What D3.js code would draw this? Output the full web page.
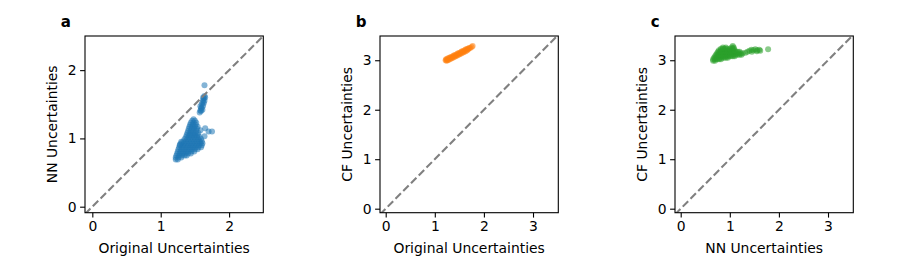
<!DOCTYPE html>
<html>
<head>
<meta charset="utf-8">
<script src="https://cdn.jsdelivr.net/npm/d3@7"></script>
<style>
  body { margin: 0; background: #fff; }
  text { font-family: "DejaVu Sans", sans-serif; }
</style>
</head>
<body>
<svg id="chart" width="900" height="270"></svg>
<script>
// panel a: original vs NN uncertainties
const pointsA = [
  [1.22,0.69],[1.25,0.69],
  [1.22,0.72],[1.26,0.72],[1.30,0.72],
  [1.23,0.75],[1.27,0.75],[1.31,0.75],[1.35,0.75],[1.38,0.75],
  [1.24,0.78],[1.28,0.78],[1.32,0.78],[1.36,0.78],[1.40,0.78],[1.44,0.78],
  [1.25,0.81],[1.29,0.81],[1.33,0.81],[1.37,0.81],[1.41,0.81],[1.45,0.81],[1.49,0.81],
  [1.26,0.84],[1.30,0.84],[1.34,0.84],[1.38,0.84],[1.42,0.84],[1.46,0.84],[1.50,0.84],[1.54,0.84],
  [1.27,0.87],[1.31,0.87],[1.35,0.87],[1.39,0.87],[1.43,0.87],[1.47,0.87],[1.51,0.87],[1.55,0.87],[1.59,0.87],
  [1.28,0.90],[1.32,0.90],[1.36,0.90],[1.40,0.90],[1.44,0.90],[1.48,0.90],[1.52,0.90],[1.56,0.90],[1.60,0.90],
  [1.30,0.93],[1.34,0.93],[1.38,0.93],[1.42,0.93],[1.46,0.93],[1.50,0.93],[1.54,0.93],[1.58,0.93],[1.61,0.93],
  [1.33,0.96],[1.37,0.96],[1.41,0.96],[1.45,0.96],[1.49,0.96],[1.53,0.96],[1.57,0.96],[1.60,0.96],
  [1.35,0.99],[1.39,0.99],[1.43,0.99],[1.47,0.99],[1.51,0.99],[1.55,0.99],[1.59,0.99],
  [1.37,1.02],[1.41,1.02],[1.45,1.02],[1.49,1.02],[1.53,1.02],[1.57,1.02],
  [1.38,1.05],[1.42,1.05],[1.46,1.05],[1.50,1.05],[1.54,1.05],
  [1.39,1.08],[1.43,1.08],[1.47,1.08],[1.51,1.08],[1.55,1.08],
  [1.40,1.11],[1.44,1.11],[1.48,1.11],[1.52,1.11],
  [1.41,1.14],[1.45,1.14],[1.49,1.14],[1.53,1.14],
  [1.42,1.17],[1.46,1.17],[1.50,1.17],[1.54,1.17],
  [1.43,1.20],[1.47,1.20],[1.51,1.20],
  [1.44,1.23],[1.48,1.23],[1.52,1.23],
  [1.46,1.26],[1.50,1.26],[1.48,1.28],
  [1.28,0.91],[1.30,0.95],
  [1.58,1.12],[1.65,1.15],[1.70,1.10],[1.75,1.10],[1.64,1.03],
  [1.57,1.38],[1.58,1.41],[1.59,1.44],[1.58,1.47],[1.60,1.50],[1.61,1.53],
  [1.62,1.56],[1.63,1.59],[1.64,1.62],[1.60,1.45],[1.62,1.48],[1.63,1.52],
  [1.64,1.55],[1.61,1.42],[1.59,1.40],[1.65,1.60],[1.62,1.60],
  [1.64,1.78]
];

// panel b: original vs CF uncertainties
const pointsB = [
  [1.22,3.00],[1.23,3.02],[1.24,2.99],[1.25,3.02],[1.26,3.00],[1.27,3.04],[1.28,3.01],
  [1.30,3.05],[1.31,3.02],[1.32,3.06],[1.34,3.04],[1.35,3.07],[1.36,3.05],[1.38,3.09],
  [1.39,3.06],[1.40,3.10],[1.42,3.08],[1.43,3.11],[1.44,3.09],[1.46,3.13],[1.47,3.10],
  [1.48,3.14],[1.50,3.12],[1.51,3.15],[1.52,3.13],[1.54,3.17],[1.55,3.14],[1.56,3.18],
  [1.58,3.16],[1.59,3.19],[1.60,3.17],[1.62,3.21],[1.63,3.18],[1.64,3.22],[1.66,3.20],
  [1.67,3.23],[1.68,3.22],[1.70,3.25],[1.72,3.25],[1.75,3.27],[1.77,3.29]
];

// panel c: NN vs CF uncertainties
const pointsC = [
  [0.66,2.99],[0.70,2.99],
  [0.66,3.02],[0.70,3.02],[0.74,3.02],[0.78,3.02],[0.82,3.02],
  [0.68,3.05],[0.72,3.05],[0.76,3.05],[0.80,3.05],[0.84,3.05],[0.88,3.05],[0.92,3.05],[0.96,3.05],
  [0.70,3.08],[0.74,3.08],[0.78,3.08],[0.82,3.08],[0.86,3.08],[0.90,3.08],[0.94,3.08],[0.98,3.08],[1.02,3.08],[1.06,3.08],[1.10,3.08],
  [0.72,3.11],[0.76,3.11],[0.80,3.11],[0.84,3.11],[0.88,3.11],[0.92,3.11],[0.96,3.11],[1.00,3.11],[1.04,3.11],[1.08,3.11],[1.12,3.11],[1.16,3.11],[1.20,3.11],[1.24,3.11],
  [0.74,3.14],[0.78,3.14],[0.82,3.14],[0.86,3.14],[0.90,3.14],[0.94,3.14],[0.98,3.14],[1.02,3.14],[1.06,3.14],[1.10,3.14],[1.14,3.14],[1.18,3.14],[1.22,3.14],[1.26,3.14],
  [0.76,3.17],[0.80,3.17],[0.84,3.17],[0.88,3.17],[0.92,3.17],[0.96,3.17],[1.00,3.17],[1.04,3.17],[1.08,3.17],[1.12,3.17],[1.16,3.17],[1.20,3.17],
  [0.78,3.20],[0.82,3.20],[0.86,3.20],[0.90,3.20],[0.94,3.20],[0.98,3.20],[1.02,3.20],[1.06,3.20],[1.10,3.20],
  [0.82,3.23],[0.86,3.23],[0.90,3.23],[0.94,3.23],[1.00,3.23],[1.05,3.23],[1.08,3.23],
  [0.86,3.26],[0.92,3.26],[1.04,3.26],[1.08,3.26],[1.06,3.29],
  [1.32,3.15],[1.36,3.17],[1.40,3.19],[1.44,3.21],[1.45,3.17],[1.48,3.20],[1.52,3.22],
  [1.55,3.18],[1.56,3.20],[1.60,3.21],[1.62,3.19],
  [1.78,3.22]
];

const ticksA = [0, 1, 2];
const ticksBC = [0, 1, 2, 3];

const panels = [
  { tag: "a", left: 85, data: pointsA, color: "#1f77b4", xd: [-0.107, 2.5], yd: [-0.088, 2.5],
    ticks: ticksA, xlabel: "Original Uncertainties", ylabel: "NN Uncertainties" },
  { tag: "b", left: 380, data: pointsB, color: "#ff7f0e", xd: [-0.116, 3.515], yd: [-0.081, 3.49],
    ticks: ticksBC, xlabel: "Original Uncertainties", ylabel: "CF Uncertainties" },
  { tag: "c", left: 675, data: pointsC, color: "#2ca02c", xd: [-0.116, 3.515], yd: [-0.081, 3.49],
    ticks: ticksBC, xlabel: "NN Uncertainties", ylabel: "CF Uncertainties" }
];

const plotTop = 36, w = 178.3, h = 176.7;
const svg = d3.select("#chart");

panels.forEach((p, i) => {
  const x = d3.scaleLinear().domain(p.xd).range([0, w]);
  const y = d3.scaleLinear().domain(p.yd).range([h, 0]);
  const g = svg.append("g").attr("transform", `translate(${p.left},${plotTop})`);

  g.append("clipPath").attr("id", "clip" + i)
    .append("rect").attr("width", w).attr("height", h);

  const plot = g.append("g").attr("clip-path", `url(#clip${i})`);

  plot.selectAll("circle")
    .data(p.data)
    .enter()
    .append("circle")
    .attr("cx", (d) => x(d[0]))
    .attr("cy", (d) => y(d[1]))
    .attr("r", 3)
    .attr("fill", p.color)
    .attr("fill-opacity", 0.55);

  const lo = Math.min(p.xd[0], p.yd[0]), hi = Math.max(p.xd[1], p.yd[1]);
  plot.append("line")
    .attr("x1", x(lo)).attr("y1", y(lo))
    .attr("x2", x(hi)).attr("y2", y(hi))
    .attr("stroke", "#808080")
    .attr("stroke-width", 2.1)
    .attr("stroke-dasharray", "7.7,3.3");

  const xAxis = g.append("g").attr("transform", `translate(0,${h})`)
    .call(d3.axisBottom(x).tickValues(p.ticks).tickFormat(d3.format("d")).tickSizeOuter(0).tickSize(4.9).tickPadding(3.5));
  const yAxis = g.append("g")
    .call(d3.axisLeft(y).tickValues(p.ticks).tickFormat(d3.format("d")).tickSizeOuter(0).tickSize(4.9).tickPadding(3.5));
  [xAxis, yAxis].forEach((ax) => {
    ax.select(".domain").remove();
    ax.selectAll("line").attr("stroke", "#000").attr("stroke-width", 1.1);
    ax.selectAll("text").attr("font-size", "13.9px").attr("fill", "#000")
      .style("font-family", "DejaVu Sans");
  });

  g.append("rect").attr("width", w).attr("height", h)
    .attr("fill", "none").attr("stroke", "#000").attr("stroke-width", 1.1);

  g.append("text")
    .attr("x", w / 2).attr("y", 253 - plotTop)
    .attr("text-anchor", "middle")
    .attr("font-size", "13.9px")
    .text(p.xlabel);

  g.append("text")
    .attr("transform", `translate(-27.7,${h / 2}) rotate(-90)`)
    .attr("text-anchor", "middle")
    .attr("font-size", "13.9px")
    .text(p.ylabel);

  g.append("text")
    .attr("x", -24.3).attr("y", 27 - plotTop)
    .attr("font-size", "15px")
    .attr("font-weight", "bold")
    .text(p.tag);
});
</script>
</body>
</html>
